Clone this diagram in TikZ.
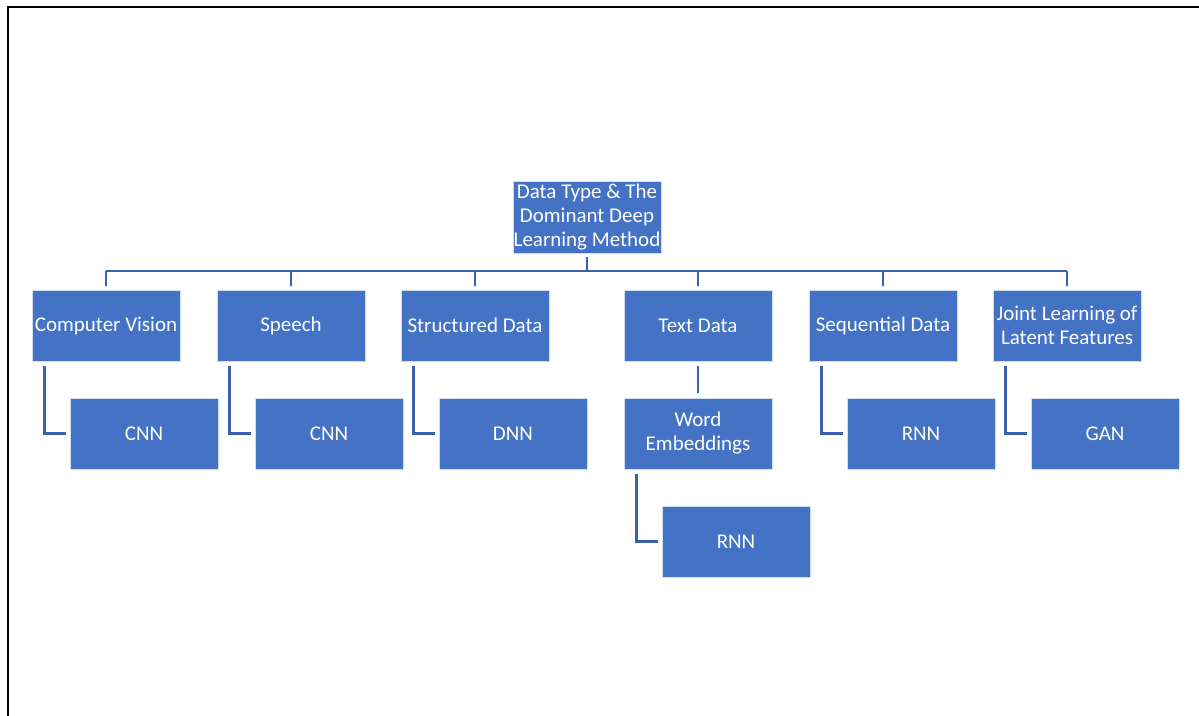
\documentclass[tikz,border=0pt]{standalone}
\usepackage{fontspec}
\setmainfont{Carlito}
\definecolor{boxblue}{HTML}{4472C4}
\definecolor{lineblue}{HTML}{3A62AC}
\begin{document}
\begin{tikzpicture}[x=1pt,y=-1pt,
  box/.style={rectangle, fill=boxblue, draw=white!75!boxblue, line width=0.8pt,
    minimum width=148pt, minimum height=71pt, inner sep=0pt, align=center,
    text=white, font=\fontsize{21}{24}\selectfont},
  conn/.style={draw=lineblue, line width=2.6pt}]
\useasboundingbox (0,0) rectangle (1199,715);
\draw[line width=2pt] (7.5,716) -- (7.5,7) -- (1200,7);
\node[box, minimum height=72pt] (root) at (587,217) {Data Type \& The\\Dominant Deep\\Learning Method};
\node[box] (cv) at (106,325.5) {Computer Vision};
\node[box] (sp) at (291,325.5) {Speech};
\node[box] (sd) at (475,325.5) {Structured Data};
\node[box] (td) at (698,325.5) {Text Data};
\node[box] (sq) at (883,325.5) {Sequential Data};
\node[box] (jl) at (1067,325.5) {Joint Learning of\\Latent Features};
\node[box] (cnn1) at (144,433.5) {CNN};
\node[box] (cnn2) at (329,433.5) {CNN};
\node[box] (dnn) at (513,433.5) {DNN};
\node[box] (we) at (698,433.5) {Word\\Embeddings};
\node[box] (rnn1) at (921,433.5) {RNN};
\node[box] (gan) at (1105,433.5) {GAN};
\node[box] (rnn2) at (736,541.5) {RNN};
\coordinate (bar) at (0,271);
\draw[conn] ([yshift=-4pt]root.south) -- (root.south |- bar);
\draw[conn] (cv.north |- bar) -- (jl.north |- bar);
\foreach \n in {cv,sp,sd,td,sq,jl}
  \draw[conn] (\n.north |- bar) -- ([yshift=4pt]\n.north);
\draw[conn] ([xshift=13pt,yshift=-5pt]cv.south west) |- ([xshift=-4pt]cnn1.west);
\draw[conn] ([xshift=13pt,yshift=-5pt]sp.south west) |- ([xshift=-4pt]cnn2.west);
\draw[conn] ([xshift=13pt,yshift=-5pt]sd.south west) |- ([xshift=-4pt]dnn.west);
\draw[conn] ([yshift=-5pt]td.south) -- ([yshift=5pt]we.north);
\draw[conn] ([xshift=13pt,yshift=-5pt]we.south west) |- ([xshift=-4pt]rnn2.west);
\draw[conn] ([xshift=13pt,yshift=-5pt]sq.south west) |- ([xshift=-4pt]rnn1.west);
\draw[conn] ([xshift=13pt,yshift=-5pt]jl.south west) |- ([xshift=-4pt]gan.west);
\end{tikzpicture}
\end{document}
